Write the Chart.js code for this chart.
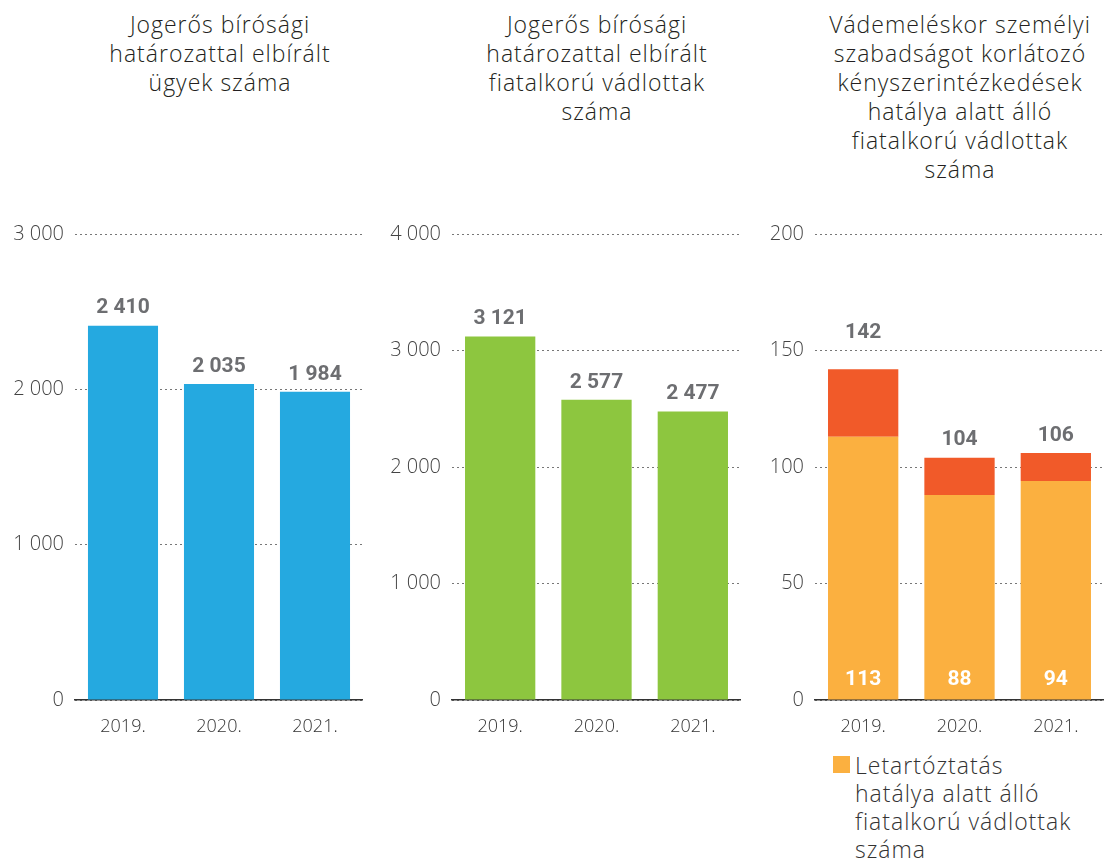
<!DOCTYPE html>
<html>
<head>
<meta charset="utf-8">
<script src="https://cdn.jsdelivr.net/npm/chart.js@4"></script>
<style>
  body { margin: 0; background: #fff; width: 1104px; height: 858px; position: relative; overflow: hidden; font-family: "Open Sans", sans-serif; }
  .title { position: absolute; top: 10px; text-align: center; font-size: 23px; line-height: 29px; letter-spacing: 1px; color: #231f20; font-weight: 300; }
  .box { position: absolute; top: 200px; height: 545px; }
  #legend { position: absolute; left: 833px; top: 751px; font-size: 23px; line-height: 28px; letter-spacing: 1px; color: #333; font-weight: 300; }
  #legend .sw { position: absolute; left: 0; top: 5px; width: 17px; height: 17px; }
  #legend .txt { margin-left: 22px; }
</style>
</head>
<body>
<div class="title" style="left:50px;width:340px">Jogerős bírósági<br>határozattal elbírált<br>ügyek száma</div>
<div class="title" style="left:427px;width:340px">Jogerős bírósági<br>határozattal elbírált<br>fiatalkorú vádlottak<br>száma</div>
<div class="title" style="left:790px;width:340px">Vádemeléskor személyi<br>szabadságot korlátozó<br>kényszerintézkedések<br>hatálya alatt álló<br>fiatalkorú vádlottak<br>száma</div>

<div class="box" style="left:0;width:363px"><canvas id="c1"></canvas></div>
<div class="box" style="left:377px;width:364px"><canvas id="c2"></canvas></div>
<div class="box" style="left:740px;width:364px"><canvas id="c3"></canvas></div>
<div id="legend"></div>

<script>
// data
const years = ["2019.", "2020.", "2021."];
const casesJudged = [2410, 2035, 1984];
const juvenileDefendants = [3121, 2577, 2477];
const pretrialDetention = [113, 88, 94];
const otherRestraints = [29, 16, 12];
const ticks1 = [0, 1000, 2000, 3000];
const ticks2 = [0, 1000, 2000, 3000, 4000];
const ticks3 = [0, 50, 100, 150, 200];
const legendLines = ["Letartóztatás", "hatálya alatt álló", "fiatalkorú vádlottak", "száma"];

const fmt = (v) => String(v).replace(/\B(?=(\d{3})+(?!\d))/g, " ");

// totals above the bars, inner values for the first dataset if asked
const valueLabels = {
  id: "valueLabels",
  afterDatasetsDraw(chart, args, opts) {
    const ctx = chart.ctx;
    const n = chart.data.datasets.length;
    const topMeta = chart.getDatasetMeta(n - 1);
    const yScale = chart.scales.y;
    const gridYs = yScale.ticks.map((t) => yScale.getPixelForValue(t.value));
    ctx.save();
    ctx.textAlign = "center";
    ctx.textBaseline = "bottom";
    ctx.font = "bold 21px Roboto";
    ctx.fillStyle = "#6d6e71";
    topMeta.data.forEach((bar, i) => {
      let total = 0;
      chart.data.datasets.forEach((ds) => (total += ds.data[i]));
      let bottom = bar.y - 7;
      // keep the label clear of a grid line
      gridYs.forEach((gy) => {
        if (gy < bottom + 2 && gy > bottom - 18) bottom = gy - 7;
      });
      ctx.fillText(fmt(total), bar.x, bottom);
    });
    if (opts.inner) {
      ctx.fillStyle = "#fff";
      ctx.textBaseline = "middle";
      chart.getDatasetMeta(0).data.forEach((bar, i) => {
        ctx.fillText(fmt(chart.data.datasets[0].data[i]), bar.x, bar.base - 20);
      });
    }
    ctx.restore();
  },
};

function makeChart(id, datasets, tickVals, inner) {
  const max = tickVals[tickVals.length - 1];
  return new Chart(document.getElementById(id), {
    type: "bar",
    data: { labels: years, datasets: datasets },
    plugins: [valueLabels],
    options: {
      responsive: true,
      maintainAspectRatio: false,
      animation: false,
      layout: { padding: { top: 34, right: 0, left: 0, bottom: 0 } },
      plugins: {
        legend: { display: false },
        tooltip: { enabled: false },
        valueLabels: { inner: inner },
      },
      scales: {
        x: {
          stacked: true,
          grid: { display: false },
          border: { display: true, color: "#333", width: 1.5 },
          ticks: { color: "#333", font: { family: "Open Sans", size: 18, weight: 300 }, padding: 8 },
          afterFit: (s) => { s.height = 45; },
        },
        y: {
          stacked: true,
          min: 0,
          max: max,
          afterBuildTicks: (s) => { s.ticks = tickVals.map((v) => ({ value: v })); },
          grid: { color: "#777", lineWidth: 1, drawTicks: false },
          border: { display: false, dash: [2, 3] },
          ticks: {
            color: "#444",
            padding: 11,
            font: { family: "Open Sans", size: 20, weight: 300 },
            callback: (v) => fmt(v),
          },
          afterFit: (s) => { s.width = 75; },
        },
      },
    },
  });
}

const barOpts = { barPercentage: 0.82, categoryPercentage: 0.89 };

makeChart("c1", [Object.assign({ label: "Ügyek", data: casesJudged, backgroundColor: "#25a9e0" }, barOpts)], ticks1, false);
makeChart("c2", [Object.assign({ label: "Vádlottak", data: juvenileDefendants, backgroundColor: "#8dc63f" }, barOpts)], ticks2, false);
const c3 = makeChart("c3", [
  Object.assign({ label: legendLines.join(" "), data: pretrialDetention, backgroundColor: "#fbb040" }, barOpts),
  Object.assign({ label: "Egyéb kényszerintézkedés", data: otherRestraints, backgroundColor: "#f15a29" }, barOpts),
], ticks3, true);

// legend for the first dataset of the third chart
const lg = document.getElementById("legend");
lg.innerHTML = '<div class="sw" style="background:' + c3.data.datasets[0].backgroundColor + '"></div>' +
  '<div class="txt">' + legendLines.join("<br>") + "</div>";
</script>
</body>
</html>
